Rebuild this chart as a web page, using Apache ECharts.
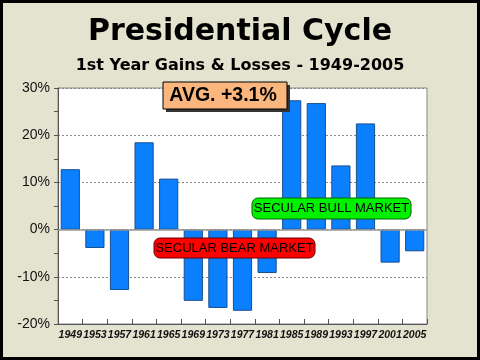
<!DOCTYPE html>
<html><head><meta charset="utf-8">
<script src="https://cdn.jsdelivr.net/npm/echarts@6/dist/echarts.min.js"></script>
<style>html,body{margin:0;padding:0;background:#e3e3cf}#c{width:480px;height:360px}</style>
</head><body><div id="c"></div>
<script>
const years = ['1949','1953','1957','1961','1965','1969','1973','1977','1981','1985','1989','1993','1997','2001','2005'];
const gains = [12.8, -3.9, -12.8, 18.5, 10.8, -15.1, -16.6, -17.2, -9.2, 27.4, 26.8, 13.6, 22.5, -7.0, -4.6];
const yTicks = [-20, -10, 0, 10, 20, 30];
const avgLabel = 'AVG. +3.1%';

const chart = echarts.init(document.getElementById('c'));
chart.setOption({
  backgroundColor: '#e3e3cf',
  animation: false,
  title: [
    {text: 'Presidential Cycle', left: 'center', top: 12,
     textStyle: {fontFamily: 'DejaVu Sans', fontWeight: 'bold', fontSize: 30, color: '#000'}},
    {text: '1st Year Gains & Losses - 1949-2005', left: 'center', top: 53,
     textStyle: {fontFamily: 'DejaVu Sans', fontWeight: 'bold', fontSize: 16, color: '#000'}}
  ],
  grid: {left: 58, right: 53, top: 88, bottom: 36, show: true, backgroundColor: '#ffffff', borderColor: '#888', borderWidth: 1},
  xAxis: {
    type: 'category', data: years, position: 'bottom',
    axisLine: {onZero: false, lineStyle: {color: '#555'}},
    axisTick: {show: true, length: 5, inside: true, lineStyle: {color: '#555'}},
    axisLabel: {fontFamily: 'Liberation Sans', fontStyle: 'italic', fontWeight: 'bold', fontSize: 10.5, color: '#111', margin: 6, interval: 0}
  },
  yAxis: {
    type: 'value', min: yTicks[0], max: yTicks[yTicks.length-1], interval: 10,
    axisLine: {show: true, lineStyle: {color: '#555'}},
    axisTick: {show: true, length: 4, lineStyle: {color: '#555'}},
    minorTick: {show: true, splitNumber: 2, length: 4, lineStyle: {color: '#555'}},
    axisLabel: {formatter: '{value}%', fontFamily: 'Liberation Sans', fontSize: 14, color: '#111', margin: 8},
    splitLine: {show: true, lineStyle: {color: '#888', type: [2, 2], width: 1}}
  },
  series: [{
    type: 'bar', data: gains, barCategoryGap: '22%',
    itemStyle: {color: '#0a80ff', borderColor: '#1a4f90', borderWidth: 1},
    markLine: {silent: true, symbol: 'none', label: {show: false},
      lineStyle: {color: '#999', type: 'solid', width: 1.5}, data: [{yAxis: 0}]}
  }],
  graphic: [
    {type: 'rect', shape: {x: 1.5, y: 1.5, width: 477, height: 357}, style: {fill: 'none', stroke: '#000', lineWidth: 3}, z: 100},
    {type: 'rect', shape: {x: 166, y: 85, width: 124, height: 27}, style: {fill: '#333'}, z: 50},
    {type: 'rect', shape: {x: 163, y: 82, width: 124, height: 27}, style: {fill: '#fbb67e', stroke: '#000', lineWidth: 1}, z: 51},
    {type: 'text', x: 223, y: 96, style: {text: avgLabel, fontFamily: 'Liberation Sans', fontWeight: 'bold', fontSize: 19.5, fill: '#000', align: 'center', verticalAlign: 'middle'}, z: 52},
    {type: 'rect', shape: {x: 154, y: 238, width: 161, height: 20, r: 6}, style: {fill: '#ff0000', stroke: '#600', lineWidth: 1}, z: 51},
    {type: 'text', x: 234.5, y: 248.5, style: {text: 'SECULAR BEAR MARKET', fontFamily: 'Liberation Sans', fontSize: 13, fill: '#000', align: 'center', verticalAlign: 'middle'}, z: 52},
    {type: 'rect', shape: {x: 252, y: 198, width: 159, height: 21, r: 6}, style: {fill: '#00f000', stroke: '#060', lineWidth: 1}, z: 51},
    {type: 'text', x: 331.5, y: 208.5, style: {text: 'SECULAR BULL MARKET', fontFamily: 'Liberation Sans', fontSize: 13, fill: '#000', align: 'center', verticalAlign: 'middle'}, z: 52}
  ]
});
</script></body></html>
